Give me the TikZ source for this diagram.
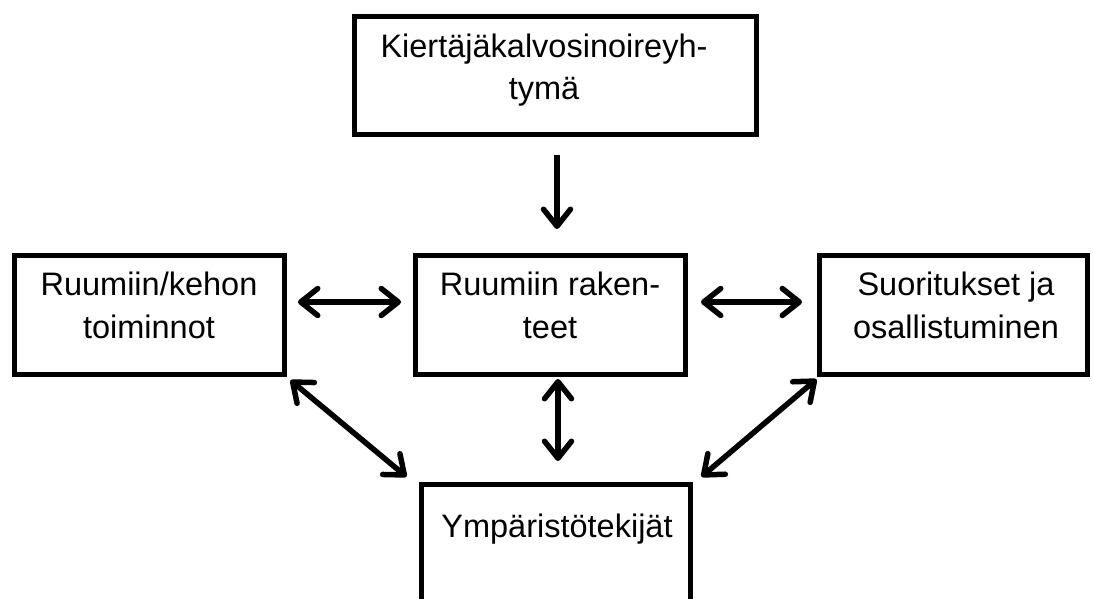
\documentclass[tikz,border=0pt]{standalone}
\usepackage{fontspec}
\setmainfont{Liberation Sans}
\usetikzlibrary{arrows.meta}
\begin{document}
\begin{tikzpicture}[x=1pt,y=-1pt,
  boxnode/.style={draw=black, line width=5pt, inner sep=0pt, fill=white},
  txt/.style={inner sep=0pt, align=center, font=\fontsize{32.5}{42.5}\selectfont, anchor=base},
  tip/.tip={Straight Barb[length=17pt,width=27pt,round]},
  arr/.style={line width=5.5pt, tip-tip},
  sarr/.style={line width=5.5pt, -tip}]
\useasboundingbox (0,0) rectangle (1093,599);
\clip (0,0) rectangle (1093,599);
\fill[white] (0,0) rectangle (1093,599);
% boxes
\node[boxnode, minimum width=402pt, minimum height=118pt] (top) at (555.5,75.5) {};
\node[boxnode, minimum width=270pt, minimum height=119pt] (left) at (149.5,315) {};
\node[boxnode, minimum width=270pt, minimum height=119pt] (mid) at (550.5,315) {};
\node[boxnode, minimum width=268pt, minimum height=119pt] (right) at (953.5,315) {};
\node[boxnode, minimum width=269pt, minimum height=160pt] (bot) at (556,564.5) {};
% texts
\node[txt] (toptxt) at (544,100) {Kiertäjäkalvosinoireyh-\\tymä};
\node[txt] (lefttxt) at (149,338) {Ruumiin/kehon\\toiminnot};
\node[txt] (midtxt) at (550,338) {Ruumiin raken-\\teet};
\node[txt] (righttxt) at (956,338) {Suoritukset ja\\osallistuminen};
\node[txt] (bottxt) at (557,537) {Ympäristötekijät};
% connectors
\draw[sarr, shorten <=18pt, shorten >=24pt] ([xshift=1.5pt]top.south) -- ([xshift=1.5pt]top.south |- mid.north);
\draw[arr, shorten <=11pt, shorten >=12pt] ([yshift=13pt]left.east) -- ([yshift=13pt]mid.west);
\draw[arr, shorten <=13pt, shorten >=15pt] ([yshift=13pt]mid.east) -- ([yshift=13pt]right.west);
\draw[arr, shorten <=2pt, shorten >=21pt] ([xshift=7.5pt]mid.south) -- ([xshift=7.5pt]mid.south |- bot.north);
\draw[arr, shorten <=2pt, shorten >=2pt] ([xshift=2pt,yshift=-2pt]left.south east) -- ([xshift=-11pt,yshift=4pt]bot.north west);
\draw[arr, shorten <=2pt, shorten >=2pt] ([xshift=7pt,yshift=4pt]bot.north east) -- ([xshift=1pt,yshift=-1pt]right.south west);
\end{tikzpicture}
\end{document}
